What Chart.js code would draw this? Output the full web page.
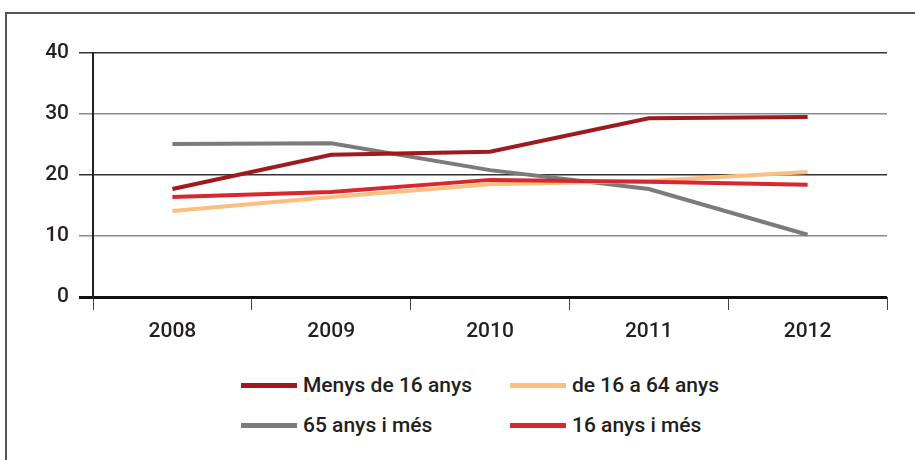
<!DOCTYPE html>
<html>
<head>
<meta charset="utf-8">
<script src="https://cdn.jsdelivr.net/npm/chart.js@4.4.1/dist/chart.umd.min.js"></script>
<style>
  body { margin: 0; background: #fff; font-family: Roboto, 'Noto Sans', sans-serif; }
  .frame {
    position: absolute; left: 5px; top: 12px; width: 930px; height: 470px;
    border-left: 2px solid #555; border-top: 2px solid #555;
  }
  #wrap { position: absolute; left: 0; top: 0; width: 915px; height: 360px; }
  .legend { position: absolute; left: 241px; top: 373px; width: 540px; }
  .item {
    position: absolute; display: flex; align-items: center;
    font-size: 21px; font-weight: 500; color: #231f20;
  }
  .swatch { width: 56px; height: 5px; margin-right: 6px; }
</style>
</head>
<body>
<div class="frame"></div>
<div id="wrap"><canvas id="chart"></canvas></div>
<div class="legend" id="legend"></div>
<script>
  const years = ['2008', '2009', '2010', '2011', '2012'];
  const seriesNames = ['Menys de 16 anys', 'de 16 a 64 anys', '65 anys i més', '16 anys i més'];
  const menys16 = [17.7, 23.3, 23.8, 29.3, 29.5];
  const de16a64 = [14.1, 16.4, 18.5, 19.0, 20.5];
  const mes65 = [25.1, 25.2, 20.8, 17.7, 10.2];
  const mes16 = [16.4, 17.2, 19.2, 18.9, 18.4];
  const colors = ['#9e1a1f', '#fbbf80', '#7b7b7d', '#d9272e'];

  const values = [menys16, de16a64, mes65, mes16];
  const datasets = seriesNames.map((name, i) => ({
    label: name,
    data: values[i],
    borderColor: colors[i],
    backgroundColor: colors[i],
    borderWidth: 4,
    pointRadius: 0,
    tension: 0,
    fill: false
  }));

  // draw order: grey and peach underneath, reds on top
  datasets[0].order = 1;
  datasets[3].order = 2;
  datasets[1].order = 3;
  datasets[2].order = 4;

  const tickFont = { size: 21, weight: '500', family: 'Roboto' };

  new Chart(document.getElementById('chart'), {
    type: 'line',
    data: { labels: years, datasets },
    options: {
      responsive: true,
      maintainAspectRatio: false,
      animation: false,
      layout: { padding: { top: 53, right: 28, left: 0, bottom: 0 } },
      plugins: { legend: { display: false }, tooltip: { enabled: false } },
      scales: {
        x: {
          offset: true,
          grid: {
            offset: true,
            drawOnChartArea: false,
            tickLength: 13,
            color: '#444',
            lineWidth: 1
          },
          border: { display: false },
          ticks: { color: '#231f20', font: tickFont, padding: 9 },
          afterFit: s => { s.height = 63; }
        },
        y: {
          min: 0, max: 40,
          ticks: { stepSize: 10, color: '#231f20', font: tickFont, padding: 10 },
          grid: {
            tickLength: 14,
            color: ctx => {
              const v = ctx.tick ? ctx.tick.value : 0;
              if (v === 0) return '#111';
              return (v === 10 || v === 30) ? '#8a8a8a' : '#333';
            },
            lineWidth: ctx => (ctx.tick && ctx.tick.value === 0) ? 3 : 1.5
          },
          border: { display: true, color: '#222', width: 2 },
          afterFit: s => { s.width = 93; }
        }
      }
    }
  });

  const legend = document.getElementById('legend');
  const pos = [[0, 0], [269, 0], [0, 40], [269, 40]];
  seriesNames.forEach((name, i) => {
    const el = document.createElement('div');
    el.className = 'item';
    el.style.left = pos[i][0] + 'px';
    el.style.top = pos[i][1] + 'px';
    el.innerHTML = '<span class="swatch" style="background:' + colors[i] + '"></span>' + name;
    legend.appendChild(el);
  });
</script>
</body>
</html>
